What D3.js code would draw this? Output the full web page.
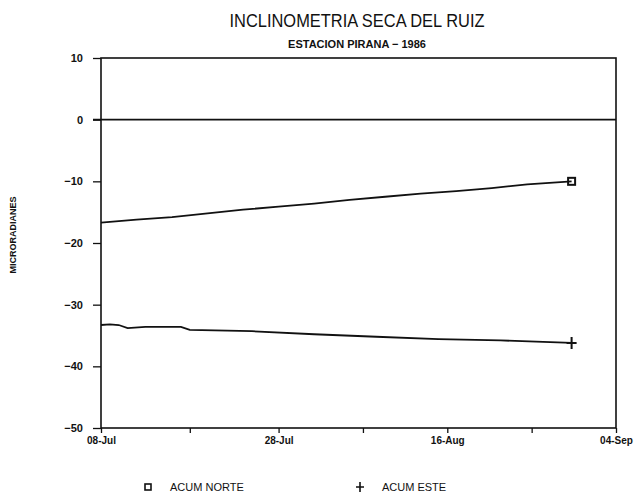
<!DOCTYPE html>
<html>
<head>
<meta charset="utf-8">
<script src="https://cdn.jsdelivr.net/npm/d3@7"></script>
<style>
  body { margin: 0; background: #fff; }
  text { fill: #111; }
</style>
</head>
<body>
<script>
// chart size
var w = 643, h = 499;
var margin = {top: 58, right: 27, bottom: 71, left: 101};

// data (microradians)
var norteDates = ["1980-07-08","1980-07-12","1980-07-16","1980-07-20","1980-07-24","1980-07-28","1980-08-01",
                  "1980-08-05","1980-08-09","1980-08-13","1980-08-17","1980-08-21","1980-08-25","1980-08-30"];
var norteValues = [-16.7, -16.2, -15.8, -15.2, -14.6, -14.1, -13.6, -13.0, -12.5, -12.0, -11.6, -11.1, -10.5, -10.0];

var esteDates = ["1980-07-08","1980-07-09","1980-07-10","1980-07-11","1980-07-13","1980-07-17","1980-07-18",
                 "1980-07-25","1980-08-01","1980-08-08","1980-08-15","1980-08-22","1980-08-26","1980-08-30"];
var esteValues = [-33.3, -33.2, -33.3, -33.8, -33.6, -33.6, -34.1, -34.3, -34.8, -35.2, -35.6, -35.8, -36.0, -36.2];

var xTickDates = ["1980-07-08","1980-07-28","1980-08-16","1980-09-04"];
var xTickLabels = ["08-Jul", "28-Jul", "16-Aug", "04-Sep"];
var yTicks = [10, 0, -10, -20, -30, -40, -50];

var parse = d3.timeParse("%Y-%m-%d");

window.onload = function(){

    var svg = d3.select("body")
        .append("svg")
        .attr("width", w)
        .attr("height", h)
        .attr("class", "container")
        .style("font-family", "'Liberation Sans', Arial, sans-serif");

    var x = d3.scaleTime()
        .domain([parse("1980-07-08"), parse("1980-09-04")])
        .range([margin.left, w - margin.right]);

    var y = d3.scaleLinear()
        .domain([-50, 10])
        .range([h - margin.bottom, margin.top]);

    // plot frame
    svg.append("rect")
        .attr("class", "frame")
        .attr("x", x.range()[0])
        .attr("y", y(10))
        .attr("width", x.range()[1] - x.range()[0])
        .attr("height", y(-50) - y(10))
        .style("fill", "none")
        .style("stroke", "#111")
        .style("stroke-width", 1.6);

    // zero line
    svg.append("line")
        .attr("class", "zero")
        .attr("x1", x.range()[0] - 8)
        .attr("x2", x.range()[1])
        .attr("y1", y(0))
        .attr("y2", y(0))
        .style("stroke", "#111")
        .style("stroke-width", 1.6);

    // y axis
    var yAxis = d3.axisLeft(y)
        .tickValues(yTicks)
        .tickSize(8)
        .tickPadding(10)
        .tickFormat(function(d){ return d < 0 ? "\u2212" + Math.abs(d) : d; });

    var ya = svg.append("g")
        .attr("class", "yaxis")
        .attr("transform", "translate(" + margin.left + ",0)")
        .call(yAxis);
    ya.select(".domain").remove();
    ya.selectAll("line").style("stroke", "#111").style("stroke-width", 1.3);
    ya.selectAll("text")
        .style("font-size", "11px")
        .style("font-weight", "bold");

    // x axis (minor ticks every half label step)
    var tickDates = xTickDates.map(parse);
    var minor = [];
    for (var i = 0; i < tickDates.length - 1; i++) {
        minor.push(tickDates[i]);
        minor.push(new Date((tickDates[i].getTime() + tickDates[i + 1].getTime()) / 2));
    }
    minor.push(tickDates[tickDates.length - 1]);

    var xMinor = svg.append("g")
        .attr("class", "xminor")
        .attr("transform", "translate(0," + (h - margin.bottom) + ")")
        .call(d3.axisBottom(x).tickValues(minor).tickSize(5).tickFormat(""));
    xMinor.select(".domain").remove();
    xMinor.selectAll("line").style("stroke", "#111").style("stroke-width", 1.3);

    var xAxis = d3.axisBottom(x)
        .tickValues(tickDates)
        .tickSize(0)
        .tickPadding(9)
        .tickFormat(function(d, i){ return xTickLabels[i]; });

    var xa = svg.append("g")
        .attr("class", "xaxis")
        .attr("transform", "translate(0," + (h - margin.bottom) + ")")
        .call(xAxis);
    xa.select(".domain").remove();
    xa.selectAll("text")
        .style("font-size", "10px")
        .style("font-weight", "bold");

    // series lines
    var line = d3.line()
        .x(function(d){ return x(d.date); })
        .y(function(d){ return y(d.value); });

    var norte = norteDates.map(function(d, i){ return {date: parse(d), value: norteValues[i]}; });
    var este = esteDates.map(function(d, i){ return {date: parse(d), value: esteValues[i]}; });

    svg.selectAll(".series")
        .data([norte, este])
        .enter()
        .append("path")
        .attr("class", "series")
        .attr("d", line)
        .style("fill", "none")
        .style("stroke", "#111")
        .style("stroke-width", 1.8);

    // end markers
    var lastN = norte[norte.length - 1];
    svg.append("rect")
        .attr("class", "markerN")
        .attr("x", x(lastN.date) - 3.5)
        .attr("y", y(lastN.value) - 3.5)
        .attr("width", 7)
        .attr("height", 7)
        .style("fill", "none")
        .style("stroke", "#111")
        .style("stroke-width", 2);

    var lastE = este[este.length - 1];
    svg.append("path")
        .attr("class", "markerE")
        .attr("transform", "translate(" + x(lastE.date) + "," + y(lastE.value) + ")")
        .attr("d", "M-5,0H5M0,-6V6")
        .style("stroke", "#111")
        .style("stroke-width", 2);

    // titles
    svg.append("text")
        .attr("class", "title")
        .attr("x", 357)
        .attr("y", 27)
        .attr("text-anchor", "middle")
        .attr("textLength", 255)
        .attr("lengthAdjust", "spacingAndGlyphs")
        .style("font-size", "19px")
        .text("INCLINOMETRIA SECA DEL RUIZ");

    svg.append("text")
        .attr("class", "subtitle")
        .attr("x", 357)
        .attr("y", 48)
        .attr("text-anchor", "middle")
        .style("font-size", "11px")
        .style("font-weight", "bold")
        .text("ESTACION PIRANA \u2212 1986");

    svg.append("text")
        .attr("class", "ylabel")
        .attr("transform", "translate(16,235) rotate(-90)")
        .attr("text-anchor", "middle")
        .style("font-size", "9px")
        .style("font-weight", "bold")
        .text("MICRORADIANES");

    // legend
    var legend = [{name: "ACUM NORTE", x: 148}, {name: "ACUM ESTE", x: 360}];
    var lg = svg.selectAll(".legend")
        .data(legend)
        .enter()
        .append("g")
        .attr("class", "legend")
        .attr("transform", function(d){ return "translate(" + d.x + ",487)"; });

    lg.filter(function(d, i){ return i === 0; })
        .append("rect")
        .attr("x", -3).attr("y", -3).attr("width", 6).attr("height", 6)
        .style("fill", "none").style("stroke", "#111").style("stroke-width", 1.6);
    lg.filter(function(d, i){ return i === 1; })
        .append("path")
        .attr("d", "M-4,0H4M0,-5V5")
        .style("stroke", "#111").style("stroke-width", 1.6);

    lg.append("text")
        .attr("x", 22)
        .attr("dy", "0.35em")
        .style("font-size", "11px")
        .text(function(d){ return d.name; });
};
</script>
</body>
</html>
